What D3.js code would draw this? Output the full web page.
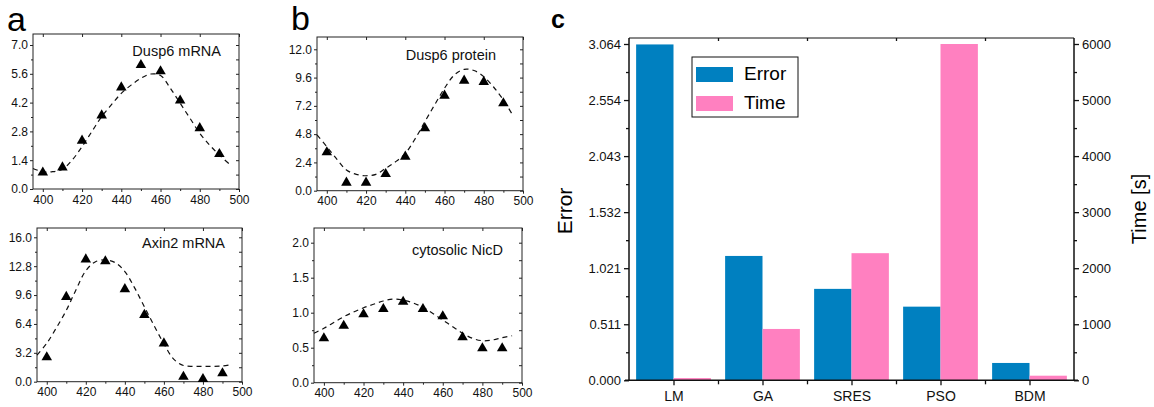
<!DOCTYPE html>
<html>
<head>
<meta charset="utf-8">
<script src="https://cdn.jsdelivr.net/npm/d3@7"></script>
<style>
  body { margin: 0; background: #fff; }
  svg { display: block; font-family: "Liberation Sans", Arial, sans-serif; }
</style>
</head>
<body>
<div id="chart-area"></div>
<script>
// measured points (min)
const timePoints = [400, 410, 420, 430, 440, 450, 460, 470, 480, 490]
const dusp6mRNA = [0.8, 1.05, 2.35, 3.58, 4.94, 6.03, 5.72, 4.3, 2.96, 1.7]
const axin2mRNA = [2.7, 9.4, 13.55, 13.35, 10.25, 7.4, 4.25, 0.55, 0.3, 0.93]
const dusp6Protein = [3.26, 0.68, 0.68, 1.42, 2.89, 5.3, 8.07, 9.34, 9.23, 7.42]
const cytoNicD = [0.634, 0.814, 0.977, 1.053, 1.157, 1.053, 0.949, 0.649, 0.491, 0.491]

// fitted model curves
const fitTimes = [395, 400, 405, 410, 415, 420, 425, 430, 435, 440, 445, 450, 455, 460, 465, 470, 475, 480, 485, 490, 495]
const dusp6mRNAFit = [1.0, 0.84, 0.84, 0.96, 1.41, 2.06, 2.79, 3.52, 4.1, 4.65, 5.05, 5.38, 5.59, 5.52, 4.9, 4.17, 3.44, 2.71, 2.14, 1.65, 1.22]
const axin2mRNAFit = [2.95, 4.25, 6.0, 7.9, 10.2, 12.3, 13.3, 13.5, 13.2, 12.2, 10.4, 8.3, 6.2, 4.2, 2.5, 1.8, 1.7, 1.7, 1.7, 1.75, 1.9]
const dusp6ProteinFit = [4.73, 3.74, 2.7, 1.76, 1.39, 1.27, 1.39, 1.9, 2.45, 3.17, 4.4, 5.86, 7.3, 8.69, 9.82, 10.3, 10.2, 9.68, 8.8, 7.7, 6.34]
const cytoNicDFit = [0.706, 0.777, 0.86, 0.943, 1.01, 1.07, 1.12, 1.167, 1.195, 1.18, 1.14, 1.076, 0.99, 0.896, 0.8, 0.706, 0.634, 0.6, 0.61, 0.643, 0.671]

// panel c
const methods = ["LM", "GA", "SRES", "PSO", "BDM"]
const errorValues = [3.06, 1.133, 0.833, 0.671, 0.158]
const timeValues = [40, 916, 2268, 6000, 82]
const errorTickLabels = ["0.000", "0.511", "1.021", "1.532", "2.043", "2.554", "3.064"]
const timeTicks = [0, 1000, 2000, 3000, 4000, 5000, 6000]

const blue = "#0080C0"
const pink = "#FF80C0"

const svg = d3.select("#chart-area")
  .append("svg")
  .attr("width", 1154)
  .attr("height", 407)

function drawPanel(p) {
  const xScale = d3.scaleLinear().domain([395, 500]).range([p.left, p.right])
  const yScale = d3.scaleLinear().domain([0, p.yMax]).range([p.bottom, p.yMaxPx])
  const g = svg.append("g")

  g.append("rect")
    .attr("x", p.left).attr("y", p.top)
    .attr("width", p.right - p.left).attr("height", p.bottom - p.top)
    .attr("fill", "none").attr("stroke", "#222").attr("stroke-width", 1)

  const n = p.nTicks
  const yTicks = d3.range(0, n + 1).map(i => i * p.yMax / n)
  const yMinor = d3.range(0, n).map(i => (i + 0.5) * p.yMax / n)
  const xTicks = [400, 420, 440, 460, 480, 500]
  const xMinor = [410, 430, 450, 470, 490]

  g.append("g")
    .attr("transform", `translate(${p.left},0)`)
    .call(d3.axisLeft(yScale).tickValues(yTicks).tickSize(3).tickSizeOuter(0).tickPadding(2)
      .tickFormat(d3.format(".1f")))
  const xAxis = g.append("g")
    .attr("transform", `translate(0,${p.bottom})`)
    .call(d3.axisBottom(xScale).tickValues(xTicks).tickSize(3).tickSizeOuter(0).tickPadding(2))
  g.append("g").attr("transform", `translate(${p.left},0)`)
    .call(d3.axisLeft(yScale).tickValues(yMinor).tickSize(2).tickSizeOuter(0).tickFormat(""))
  g.append("g").attr("transform", `translate(0,${p.bottom})`)
    .call(d3.axisBottom(xScale).tickValues(xMinor).tickSize(2).tickSizeOuter(0).tickFormat(""))
  // inward ticks on top and right
  g.append("g").attr("transform", `translate(0,${p.top})`)
    .call(d3.axisTop(xScale).tickValues(xTicks).tickSize(-3).tickSizeOuter(0).tickFormat(""))
  g.append("g").attr("transform", `translate(${p.right},0)`)
    .call(d3.axisRight(yScale).tickValues(yTicks.concat(yMinor)).tickSize(-3).tickSizeOuter(0).tickFormat(""))

  g.selectAll(".domain").remove()
  g.selectAll(".tick line").attr("stroke", "#222")
  g.selectAll(".tick text").attr("font-size", 12).attr("fill", "#111")
    .attr("font-family", "Liberation Sans, Arial, sans-serif")
  xAxis.selectAll("text").attr("dy", "0.8em")

  const line = d3.line()
    .x((d, i) => xScale(fitTimes[i]))
    .y(d => yScale(d))
    .curve(d3.curveCatmullRom)
  g.append("path")
    .datum(p.fit)
    .attr("d", line)
    .attr("fill", "none")
    .attr("stroke", "#111")
    .attr("stroke-width", 1.2)
    .attr("stroke-dasharray", "5,4")

  g.selectAll(".marker")
    .data(p.data)
    .join("path")
    .attr("d", d3.symbol(d3.symbolTriangle, 48))
    .attr("transform", (d, i) => `translate(${xScale(timePoints[i])},${yScale(d)})`)
    .attr("fill", "#000")

  g.append("text")
    .attr("x", p.labelX).attr("y", p.labelY)
    .attr("text-anchor", "end")
    .attr("font-size", 14.5)
    .attr("fill", "#111")
    .text(p.label)
}

drawPanel({ left: 33, right: 239, top: 34, bottom: 189, yMax: 7, yMaxPx: 45, nTicks: 5,
  data: dusp6mRNA, fit: dusp6mRNAFit, label: "Dusp6 mRNA", labelX: 221, labelY: 56 })
drawPanel({ left: 37, right: 242, top: 228, bottom: 381.7, yMax: 16, yMaxPx: 237.3, nTicks: 5,
  data: axin2mRNA, fit: axin2mRNAFit, label: "Axin2 mRNA", labelX: 225, labelY: 248 })
drawPanel({ left: 317, right: 523, top: 37, bottom: 190.7, yMax: 12, yMaxPx: 49.3, nTicks: 5,
  data: dusp6Protein, fit: dusp6ProteinFit, label: "Dusp6 protein", labelX: 496, labelY: 60 })
drawPanel({ left: 314, right: 522, top: 228, bottom: 382.7, yMax: 2, yMaxPx: 242.7, nTicks: 4,
  data: cytoNicD, fit: cytoNicDFit, label: "cytosolic NicD", labelX: 503, labelY: 255 })

// panel letters
svg.append("text").attr("x", 7).attr("y", 31).attr("font-size", 34).text("a")
svg.append("text").attr("x", 291).attr("y", 30).attr("font-size", 34).text("b")
svg.append("text").attr("x", 551).attr("y", 28).attr("font-size", 25).attr("font-weight", "bold").text("c")

// ---- panel c ----
const c = { left: 629, right: 1074, top: 38, bottom: 380.3 }
const chart = svg.append("g")

const xBand = d3.scaleBand().domain(methods).range([c.left, c.right]).paddingInner(0.16).paddingOuter(0.08)
const xSub = d3.scaleBand().domain(["Error", "Time"]).range([0, xBand.bandwidth()])
const yErr = d3.scaleLinear().domain([0, 3.064]).range([c.bottom, 44])
const yTime = d3.scaleLinear().domain([0, 6000]).range([c.bottom, 44])

chart.selectAll(".err")
  .data(errorValues)
  .join("rect")
  .attr("x", (d, i) => xBand(methods[i]) + xSub("Error"))
  .attr("y", d => yErr(d))
  .attr("width", xSub.bandwidth())
  .attr("height", d => yErr(0) - yErr(d))
  .attr("fill", blue)

chart.selectAll(".time")
  .data(timeValues)
  .join("rect")
  .attr("x", (d, i) => xBand(methods[i]) + xSub("Time"))
  .attr("y", d => yTime(d))
  .attr("width", xSub.bandwidth())
  .attr("height", d => yTime(0) - yTime(d))
  .attr("fill", pink)

// frame lines
chart.append("line").attr("x1", c.left).attr("x2", c.right).attr("y1", c.top).attr("y2", c.top)
  .attr("stroke", "#111").attr("stroke-width", 1)
chart.append("line").attr("x1", c.left).attr("x2", c.left).attr("y1", c.top).attr("y2", c.bottom)
  .attr("stroke", "#111").attr("stroke-width", 1.5)
chart.append("line").attr("x1", c.right).attr("x2", c.right).attr("y1", c.top).attr("y2", c.bottom)
  .attr("stroke", "#111").attr("stroke-width", 1.5)
chart.append("line").attr("x1", c.left - 4).attr("x2", c.right + 4).attr("y1", c.bottom).attr("y2", c.bottom)
  .attr("stroke", "#111").attr("stroke-width", 1.5)

const errTicks = errorTickLabels.map((d, i) => i * 3.064 / 6)
const errMinor = d3.range(6).map(i => (i + 0.5) * 3.064 / 6)
const timeMinor = d3.range(6).map(i => (i + 0.5) * 1000)

chart.append("g").attr("transform", `translate(${c.left},0)`)
  .call(d3.axisLeft(yErr).tickValues(errTicks).tickSize(5).tickSizeOuter(0).tickPadding(3)
    .tickFormat((d, i) => errorTickLabels[i]))
chart.append("g").attr("transform", `translate(${c.left},0)`)
  .call(d3.axisLeft(yErr).tickValues(errMinor).tickSize(3).tickSizeOuter(0).tickFormat(""))
chart.append("g").attr("transform", `translate(${c.right},0)`)
  .call(d3.axisRight(yTime).tickValues(timeTicks).tickSize(5).tickSizeOuter(0).tickPadding(3)
    .tickFormat(d3.format("d")))
chart.append("g").attr("transform", `translate(${c.right},0)`)
  .call(d3.axisRight(yTime).tickValues(timeMinor).tickSize(3).tickSizeOuter(0).tickFormat(""))

// category axis: ticks at centers, minor ticks at band boundaries
const xCenter = d3.scalePoint().domain(methods).range([xBand("LM") + xBand.bandwidth() / 2, xBand("BDM") + xBand.bandwidth() / 2])
chart.append("g").attr("transform", `translate(0,${c.bottom})`)
  .call(d3.axisBottom(xCenter).tickSize(5).tickSizeOuter(0).tickPadding(6))
const boundaries = d3.range(1, methods.length).map(i => c.left + i * (c.right - c.left) / methods.length)
const xPix = d3.scaleLinear().domain([c.left, c.right]).range([c.left, c.right])
chart.append("g").attr("transform", `translate(0,${c.bottom})`)
  .call(d3.axisBottom(xPix).tickValues(boundaries).tickSize(4).tickSizeOuter(0).tickFormat(""))
chart.append("g").attr("transform", `translate(0,${c.top})`)
  .call(d3.axisTop(xPix).tickValues(boundaries).tickSize(-3).tickSizeOuter(0).tickFormat(""))

chart.selectAll(".domain").remove()
chart.selectAll(".tick line").attr("stroke", "#111").attr("stroke-width", 1.3)
chart.selectAll(".tick text").attr("font-size", 13).attr("fill", "#111")
  .attr("font-family", "Liberation Sans, Arial, sans-serif")
chart.selectAll(".tick text").filter(d => methods.includes(d)).attr("font-size", 14)

chart.append("text")
  .attr("transform", `translate(572,211) rotate(-90)`)
  .attr("text-anchor", "middle")
  .attr("font-size", 21)
  .text("Error")
chart.append("text")
  .attr("transform", `translate(1146,209) rotate(-90)`)
  .attr("text-anchor", "middle")
  .attr("font-size", 20)
  .text("Time [s]")

// legend
const legend = chart.append("g")
legend.append("rect").attr("x", 692).attr("y", 57).attr("width", 106).attr("height", 60)
  .attr("fill", "#fff").attr("stroke", "#111").attr("stroke-width", 1)
const legendItems = [{ name: "Error", color: blue }, { name: "Time", color: pink }]
legend.selectAll(".item")
  .data(legendItems)
  .join("g")
  .attr("transform", (d, i) => `translate(696,${67 + i * 29})`)
  .call(g => g.append("rect").attr("width", 37).attr("height", 15).attr("fill", d => d.color))
  .call(g => g.append("text").attr("x", 48).attr("y", 13).attr("font-size", 19).text(d => d.name))
</script>
</body>
</html>
